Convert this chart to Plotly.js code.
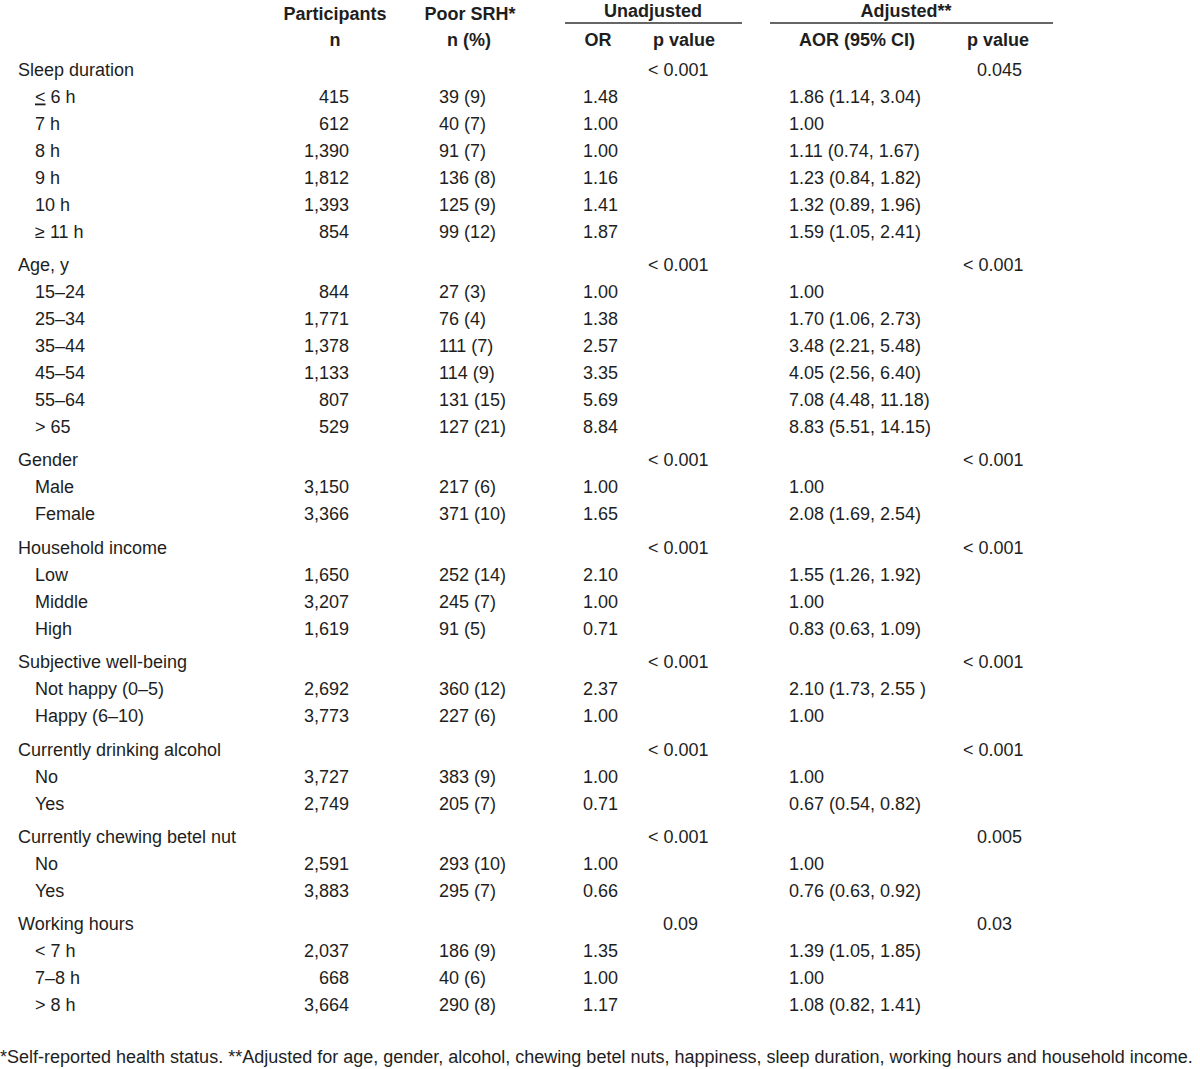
<!DOCTYPE html>
<html><head><meta charset="utf-8">
<script src="https://cdn.plot.ly/plotly-3.0.1.min.js"></script>
<style>html,body{margin:0;padding:0;background:#fff}</style>
</head><body><div id="chart" style="width:1200px;height:1069px"></div>
<script>
// ---- data ----
const groups = ["Sleep duration","Age, y","Gender","Household income","Subjective well-being","Currently drinking alcohol","Currently chewing betel nut","Working hours"];
const items = [
  ["<u>&lt;</u> 6 h","7 h","8 h","9 h","10 h","≥ 11 h"],
  ["15–24","25–34","35–44","45–54","55–64","> 65"],
  ["Male","Female"],
  ["Low","Middle","High"],
  ["Not happy (0–5)","Happy (6–10)"],
  ["No","Yes"],
  ["No","Yes"],
  ["< 7 h","7–8 h","> 8 h"]
];
const participants = [
  ["415","612","1,390","1,812","1,393","854"],
  ["844","1,771","1,378","1,133","807","529"],
  ["3,150","3,366"],
  ["1,650","3,207","1,619"],
  ["2,692","3,773"],
  ["3,727","2,749"],
  ["2,591","3,883"],
  ["2,037","668","3,664"]
];
const poorSRH = [
  ["39 (9)","40 (7)","91 (7)","136 (8)","125 (9)","99 (12)"],
  ["27 (3)","76 (4)","111 (7)","114 (9)","131 (15)","127 (21)"],
  ["217 (6)","371 (10)"],
  ["252 (14)","245 (7)","91 (5)"],
  ["360 (12)","227 (6)"],
  ["383 (9)","205 (7)"],
  ["293 (10)","295 (7)"],
  ["186 (9)","40 (6)","290 (8)"]
];
const oddsRatio = [
  ["1.48","1.00","1.00","1.16","1.41","1.87"],
  ["1.00","1.38","2.57","3.35","5.69","8.84"],
  ["1.00","1.65"],
  ["2.10","1.00","0.71"],
  ["2.37","1.00"],
  ["1.00","0.71"],
  ["1.00","0.66"],
  ["1.35","1.00","1.17"]
];
const adjustedOR = [
  ["1.86 (1.14, 3.04)","1.00","1.11 (0.74, 1.67)","1.23 (0.84, 1.82)","1.32 (0.89, 1.96)","1.59 (1.05, 2.41)"],
  ["1.00","1.70 (1.06, 2.73)","3.48 (2.21, 5.48)","4.05 (2.56, 6.40)","7.08 (4.48, 11.18)","8.83 (5.51, 14.15)"],
  ["1.00","2.08 (1.69, 2.54)"],
  ["1.55 (1.26, 1.92)","1.00","0.83 (0.63, 1.09)"],
  ["2.10 (1.73, 2.55 )","1.00"],
  ["1.00","0.67 (0.54, 0.82)"],
  ["1.00","0.76 (0.63, 0.92)"],
  ["1.39 (1.05, 1.85)","1.00","1.08 (0.82, 1.41)"]
];
const unadjP = ["< 0.001","< 0.001","< 0.001","< 0.001","< 0.001","< 0.001","< 0.001","0.09"];
const adjP   = ["0.045","< 0.001","< 0.001","< 0.001","< 0.001","< 0.001","0.005","0.03"];
const headerTop = ["Participants","Poor SRH*","Unadjusted","Adjusted**"];
const headerSub = ["n","n (%)","OR","p value","AOR (95% CI)","p value"];
const footnote = "*Self-reported health status. **Adjusted for age, gender, alcohol, chewing betel nuts, happiness, sleep duration, working hours and household income.";

// ---- layout helpers ----
const FONT = "'Liberation Sans', Arial, sans-serif";
const COLOR = "#1e1e1e";
const Y0 = 71, STEP = 27, GAP = 6.4;

const gY = [], gLab = [], uP = [], aP = [];
const iY = [], iLab = [], pt = [], srh = [], orv = [], aor = [];
let r = 0;
groups.forEach((g, gi) => {
  const y = Y0 + r * STEP + gi * GAP;
  gY.push(y); gLab.push(g); uP.push(unadjP[gi]); aP.push(adjP[gi]);
  r++;
  items[gi].forEach((it, ii) => {
    const yy = Y0 + r * STEP + gi * GAP;
    iY.push(yy); iLab.push(it);
    pt.push(participants[gi][ii]); srh.push(poorSRH[gi][ii]);
    orv.push(oddsRatio[gi][ii]); aor.push(adjustedOR[gi][ii]);
    r++;
  });
});

function txt(x, y, text, pos, opts) {
  opts = opts || {};
  return {
    type: 'scatter', mode: 'text',
    x: Array.isArray(x) ? x : y.map(() => x), y: y, text: text,
    textposition: pos, cliponaxis: false, hoverinfo: 'skip', showlegend: false,
    textfont: {family: FONT, size: opts.size || 18, color: COLOR}
  };
}

const traces = [
  txt(18, gY, gLab, 'middle right'),
  txt(35, iY, iLab, 'middle right'),
  txt(349, iY, pt, 'middle left'),
  txt(439, iY, srh, 'middle right'),
  txt(583, iY, orv, 'middle right'),
  txt(uP.map(v => v.startsWith('<') ? 648 : 663), gY, uP, 'middle right'),
  txt(789, iY, aor, 'middle right'),
  txt(aP.map(v => v.startsWith('<') ? 963 : 977), gY, aP, 'middle right'),
  txt([335, 470, 653, 906], [15, 15, 12, 12], headerTop.map(h => '<b>' + h + '</b>'), 'middle center'),
  txt([335, 469, 598, 684, 857, 998], [41, 41, 41, 41, 41, 41], headerSub.map(h => '<b>' + h + '</b>'), 'middle center'),
  txt(0, [1058], [footnote], 'middle right')
];

const layout = {
  width: 1200, height: 1069,
  margin: {l: 0, r: 0, t: 0, b: 0},
  paper_bgcolor: '#fff', plot_bgcolor: '#fff',
  xaxis: {range: [0, 1200], visible: false, fixedrange: true},
  yaxis: {range: [1069, 0], visible: false, fixedrange: true},
  showlegend: false,
  shapes: [
    {type: 'line', xref: 'x', yref: 'y', x0: 565, x1: 742, y0: 23, y1: 23, line: {color: '#333', width: 1.3}},
    {type: 'line', xref: 'x', yref: 'y', x0: 770, x1: 1053, y0: 23, y1: 23, line: {color: '#333', width: 1.3}}
  ]
};
Plotly.newPlot('chart', traces, layout, {staticPlot: true, displayModeBar: false});
</script>
</body></html>
